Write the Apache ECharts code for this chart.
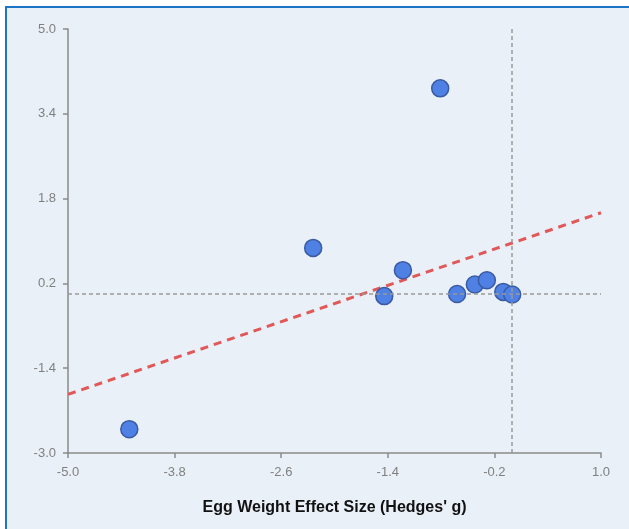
<!DOCTYPE html>
<html>
<head>
<meta charset="utf-8">
<script src="https://cdn.jsdelivr.net/npm/echarts@6/dist/echarts.min.js"></script>
<style>
  html, body { margin: 0; padding: 0; background: #ffffff; overflow: hidden; }
  #frame {
    position: absolute; left: 5px; top: 6px; width: 700px; height: 600px;
    background: #eaf0f7; border-left: 2px solid #1b74c5; border-top: 2px solid #1b74c5;
  }
  #chart { position: absolute; left: 0; top: 0; width: 629px; height: 529px; }
</style>
</head>
<body>
<div id="frame"></div>
<div id="chart"></div>
<script>
// Study-level effect sizes: egg weight (x) vs. second outcome (y)
const effectX = [-4.31, -2.24, -0.81, -1.23, -1.44, -0.62, -0.42, -0.285, -0.10, 0.00];
const effectY = [-2.55, 0.87, 3.88, 0.45, -0.04, 0.00, 0.18, 0.26, 0.04, -0.01];

const xTicks = [-5.0, -3.8, -2.6, -1.4, -0.2, 1.0];
const yTicks = [-3.0, -1.4, 0.2, 1.8, 3.4, 5.0];

const points = effectX.map((x, i) => [x, effectY[i]]);

// Ordinary least-squares fit across the plotted range
function olsFit(xs, ys) {
  const n = xs.length;
  const mx = xs.reduce((a, b) => a + b, 0) / n;
  const my = ys.reduce((a, b) => a + b, 0) / n;
  let sxy = 0, sxx = 0;
  for (let i = 0; i < n; i++) {
    sxy += (xs[i] - mx) * (ys[i] - my);
    sxx += (xs[i] - mx) * (xs[i] - mx);
  }
  const slope = sxy / sxx;
  return { slope, intercept: my - slope * mx };
}
const fit = olsFit(effectX, effectY);
const xLo = xTicks[0], xHi = xTicks[xTicks.length - 1];
const trend = [[xLo, fit.intercept + fit.slope * xLo], [xHi, fit.intercept + fit.slope * xHi]];

const labelFont = { color: '#808080', fontSize: 13, fontFamily: 'Liberation Sans, Arial, sans-serif' };
const axisLine = { show: true, onZero: false, lineStyle: { color: '#8a8a8a', width: 1.5 } };
const axisTick = { show: true, length: 5, lineStyle: { color: '#8a8a8a', width: 1.5 } };

const chart = echarts.init(document.getElementById('chart'), null, { renderer: 'canvas' });
chart.setOption({
  backgroundColor: 'transparent',
  animation: false,
  grid: { left: 68, right: 28, top: 29, bottom: 76 },
  xAxis: {
    type: 'value',
    min: xTicks[0], max: xTicks[xTicks.length - 1],
    interval: +(xTicks[1] - xTicks[0]).toFixed(1),
    axisLine: axisLine,
    axisTick: axisTick,
    splitLine: { show: false },
    axisLabel: Object.assign({ margin: 13, formatter: v => v.toFixed(1) }, labelFont),
    name: "Egg Weight Effect Size (Hedges' g)",
    nameLocation: 'middle',
    nameGap: 47,
    nameTextStyle: { color: '#111111', fontSize: 16, fontWeight: 'bold', fontFamily: 'Liberation Sans, Arial, sans-serif' }
  },
  yAxis: {
    type: 'value',
    min: yTicks[0], max: yTicks[yTicks.length - 1],
    interval: +(yTicks[1] - yTicks[0]).toFixed(1),
    axisLine: axisLine,
    axisTick: axisTick,
    splitLine: { show: false },
    axisLabel: Object.assign({ margin: 12, formatter: v => v.toFixed(1) }, labelFont)
  },
  series: [
    {
      type: 'line',
      data: trend,
      symbol: 'none',
      silent: true,
      z: 2,
      lineStyle: { color: '#e05858', width: 3, type: [8, 6] },
      markLine: {
        silent: true,
        symbol: 'none',
        label: { show: false },
        lineStyle: { color: '#999999', width: 1.5, type: [4, 3] },
        data: [{ xAxis: 0 }, { yAxis: 0 }]
      }
    },
    {
      type: 'scatter',
      data: points,
      symbolSize: 17,
      z: 3,
      itemStyle: { color: '#4f80e4', borderColor: '#3a5ba3', borderWidth: 1.5, opacity: 1 }
    }
  ]
});
</script>
</body>
</html>
